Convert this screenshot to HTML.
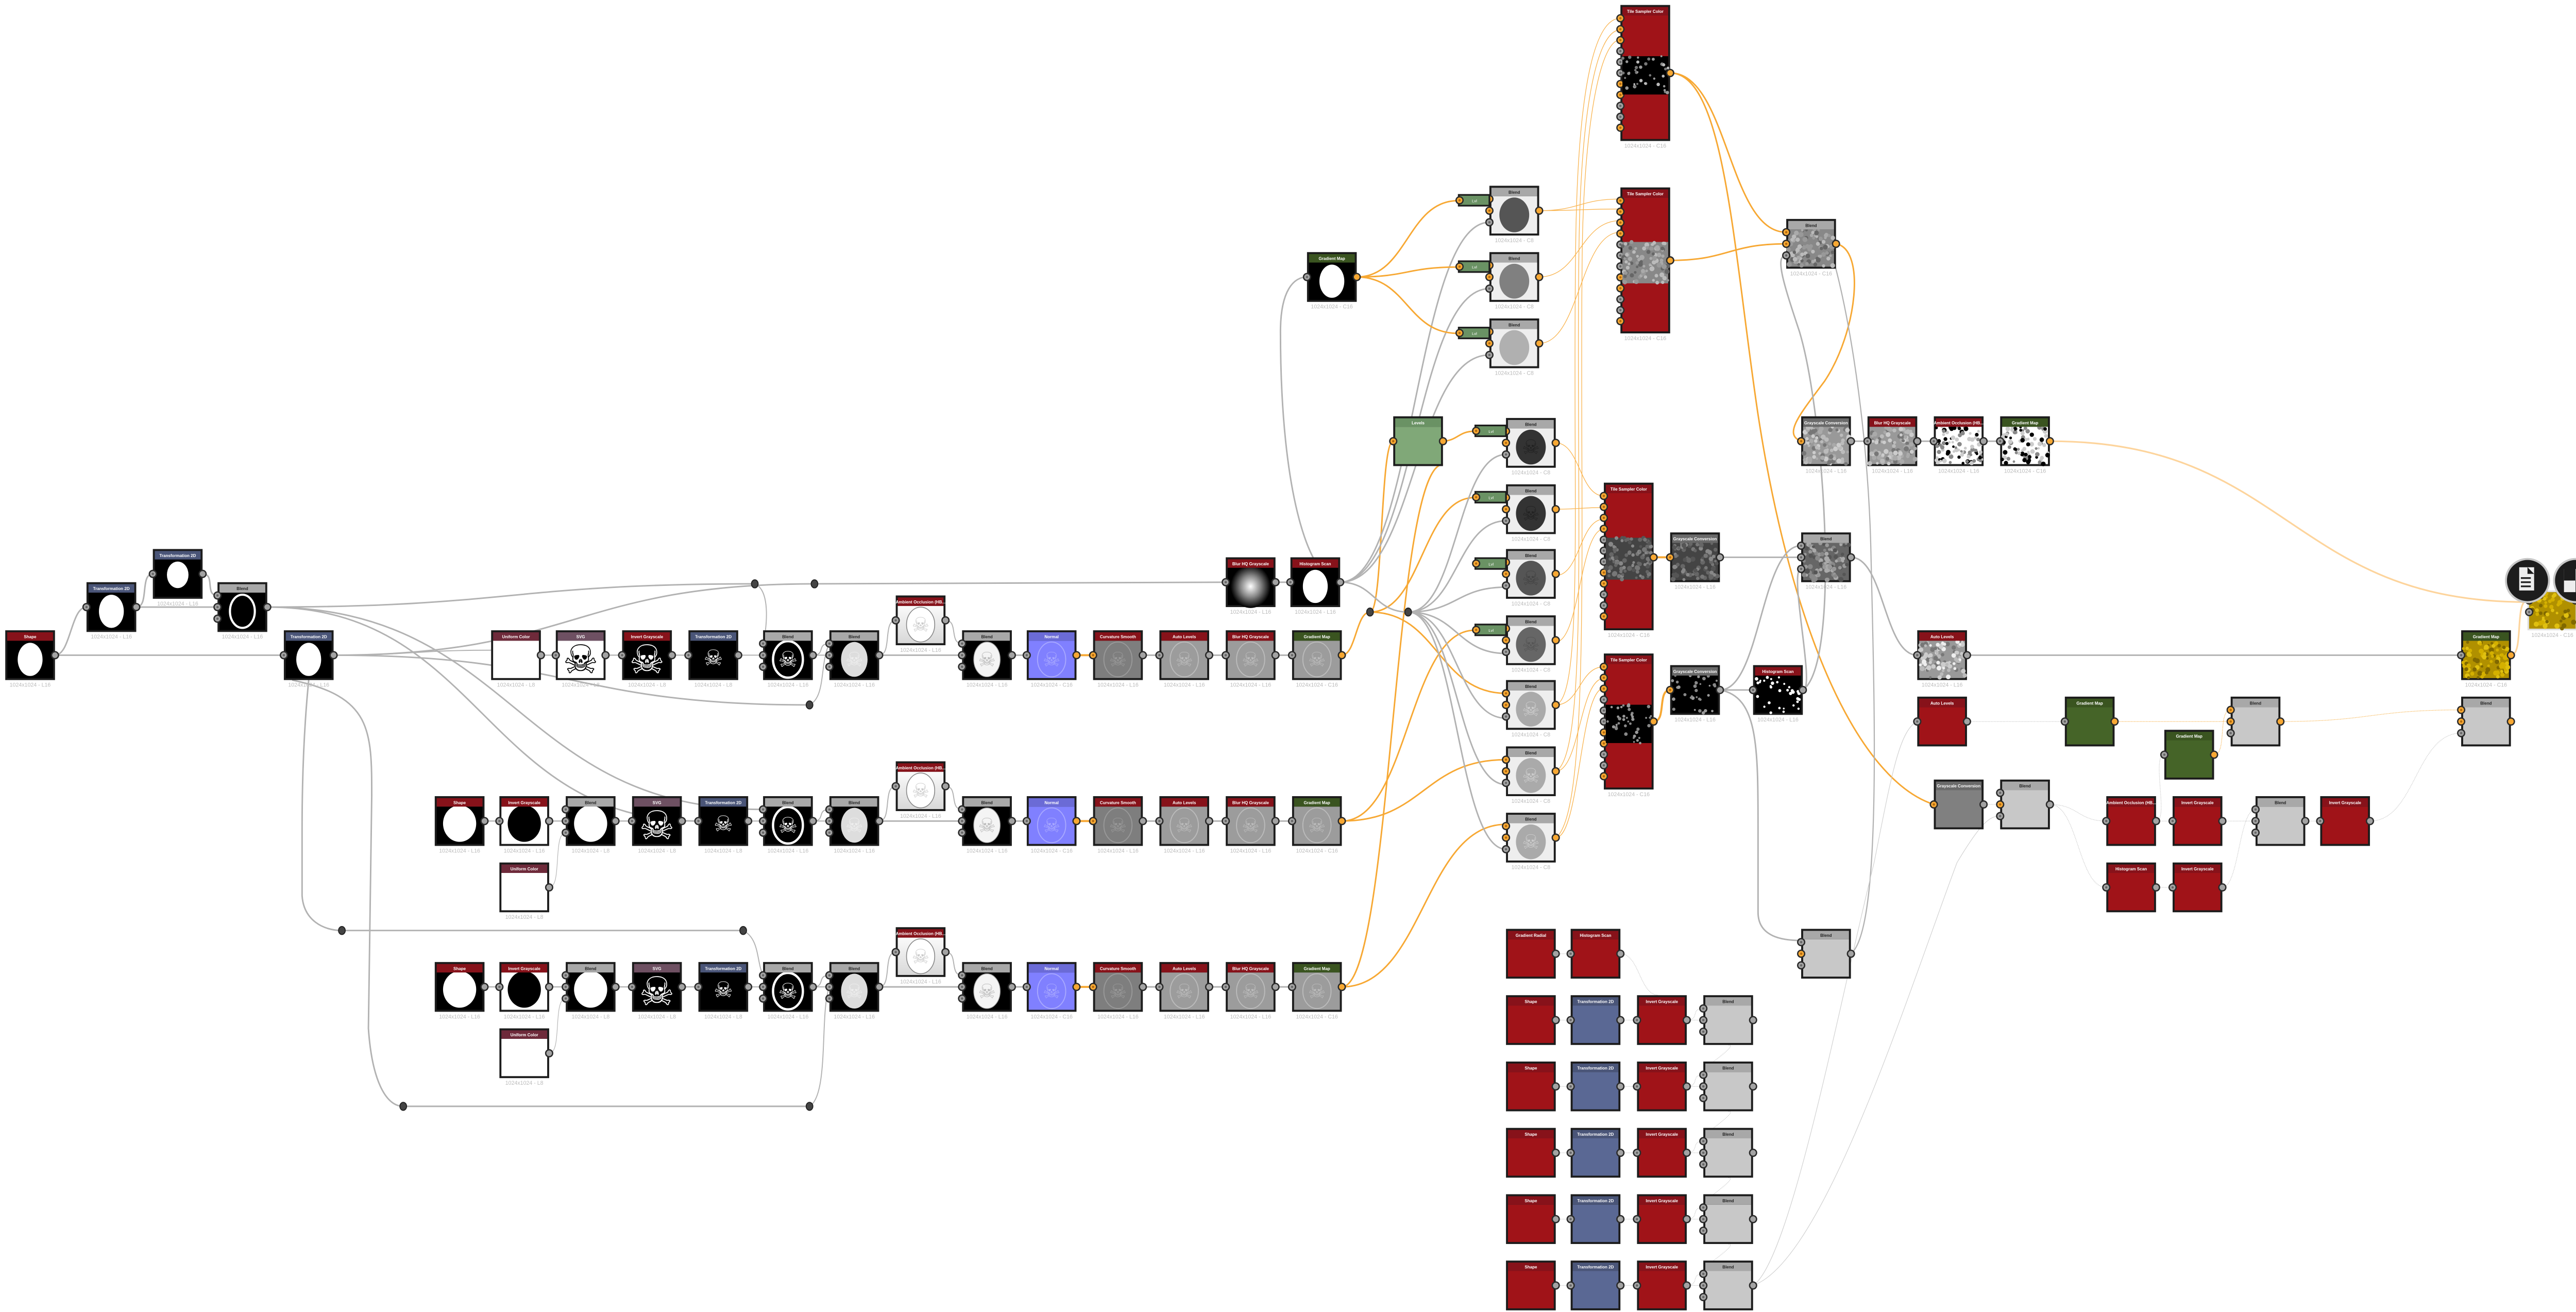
<!DOCTYPE html>
<html><head><meta charset="utf-8">
<style>
html,body{margin:0;padding:0;background:#fff;width:5048px;height:2546px;overflow:hidden}
svg{display:block}
text{font-family:"Liberation Sans",sans-serif}
</style></head>
<body>
<svg id="s" width="5048" height="2546" viewBox="0 0 1568 791" xmlns="http://www.w3.org/2000/svg">
<defs>
<radialGradient id="glow" cx="50%" cy="50%" r="50%"><stop offset="0" stop-color="#fff"/><stop offset="0.5" stop-color="#888"/><stop offset="1" stop-color="#000"/></radialGradient>
<linearGradient id="aog" x1="0" y1="0" x2="0" y2="1"><stop offset="0" stop-color="#fafafa"/><stop offset="1" stop-color="#d8d8d8"/></linearGradient>
</defs>
<g id="edges"></g>
<g id="nodes"></g>
</svg>
<script>
(function(){
var E='',N='';
var seed=12345;function rnd(){seed=(seed*16807)%2147483647;return seed/2147483647;}
var TC={red:'#87121a',blue:'#4a5578',gray:'#a8a8a8',green:'#3a5420',uc:'#6e2a3a',svg:'#6e5062',nrm:'#6b6bd6',gc:'#6a6a6a',lev:'#6a9264'};
var G='#a3a3a3',O='#f7a833';
function edge(x1,y1,x2,y2,c,w,dash,op){
 var d=Math.max(Math.abs(x2-x1)/2,8);
 E+='<path d="M'+x1+' '+y1+' C'+(x1+d)+' '+y1+' '+(x2-d)+' '+y2+' '+x2+' '+y2+'" fill="none" stroke="'+c+'" stroke-width="'+w+'"'+(dash?' stroke-dasharray="0.5 0.4"':'')+(op?' opacity="'+op+'"':'')+'/>';
}
function gE(a,b,c,d,w){edge(a,b,c,d,'#b2b2b2',w||0.9);}
function oE(a,b,c,d,w){edge(a,b,c,d,O,w||0.9);}
function tO(a,b,c,d){edge(a,b,c,d,'#f9b34d',0.4);}
function fD(a,b,c,d,col){edge(a,b,c,d,col||'#c8c8c8',0.35,true);}
function raw(p,c,w){E+='<path d="'+p+'" fill="none" stroke="'+c+'" stroke-width="'+w+'"/>';}
function noise(x,y,w,h,bg,cols,n,r){
 var s='<rect x="'+x+'" y="'+y+'" width="'+w+'" height="'+h+'" fill="'+bg+'"/>';
 for(var i=0;i<n;i++){var cx=x+rnd()*w,cy=y+rnd()*h;s+='<circle cx="'+cx.toFixed(1)+'" cy="'+cy.toFixed(1)+'" r="'+(r*(0.6+rnd()*0.6)).toFixed(2)+'" fill="'+cols[Math.floor(rnd()*cols.length)]+'"/>';}
 return s;
}
function skull(cx,cy,sz,col){return '<text x="'+cx+'" y="'+(cy+sz*0.35)+'" font-size="'+sz+'" text-anchor="middle" fill="'+col+'" font-family="DejaVu Sans,sans-serif">☠</text>';}
function body(t,x,y,w,h){
 var cx=x+w/2,cy=y+h/2,s='';
 var p=t.split(':');
 switch(p[0]){
 case 'solid':return '<rect x="'+x+'" y="'+y+'" width="'+w+'" height="'+h+'" fill="'+p[1]+'"/>';
 case 'circ':return '<rect x="'+x+'" y="'+y+'" width="'+w+'" height="'+h+'" fill="#000"/><ellipse cx="'+cx+'" cy="'+cy+'" rx="7.5" ry="10" fill="#fff"/>';
 case 'circS':return '<rect x="'+x+'" y="'+y+'" width="'+w+'" height="'+h+'" fill="#000"/><ellipse cx="'+cx+'" cy="'+(cy-2)+'" rx="6.5" ry="8" fill="#fff"/>';
 case 'circB':return '<rect x="'+x+'" y="'+y+'" width="'+w+'" height="'+h+'" fill="#000"/><ellipse cx="'+cx+'" cy="'+(cy-1)+'" rx="10" ry="11" fill="#fff"/>';
 case 'invc':return '<rect x="'+x+'" y="'+y+'" width="'+w+'" height="'+h+'" fill="#fff"/><ellipse cx="'+cx+'" cy="'+(cy-1)+'" rx="10" ry="11" fill="#000"/>';
 case 'ring':return '<rect x="'+x+'" y="'+y+'" width="'+w+'" height="'+h+'" fill="#000"/><ellipse cx="'+cx+'" cy="'+cy+'" rx="7.5" ry="10" fill="none" stroke="#fff" stroke-width="1.3"/>';
 case 'white':return '<rect x="'+x+'" y="'+y+'" width="'+w+'" height="'+h+'" fill="#fff"/>';
 case 'skullW':return '<rect x="'+x+'" y="'+y+'" width="'+w+'" height="'+h+'" fill="#fff"/>'+skull(cx,cy,24,'#000');
 case 'skullB':return '<rect x="'+x+'" y="'+y+'" width="'+w+'" height="'+h+'" fill="#000"/>'+skull(cx,cy,24,'#fff');
 case 'skullS':return '<rect x="'+x+'" y="'+y+'" width="'+w+'" height="'+h+'" fill="#000"/>'+skull(cx,cy-1,13,'#fff');
 case 'ringSk':return '<rect x="'+x+'" y="'+y+'" width="'+w+'" height="'+h+'" fill="#000"/><ellipse cx="'+cx+'" cy="'+cy+'" rx="9" ry="11" fill="none" stroke="#fff" stroke-width="1.4"/>'+skull(cx,cy,13,'#fff');
 case 'pale':return '<rect x="'+x+'" y="'+y+'" width="'+w+'" height="'+h+'" fill="#000"/><ellipse cx="'+cx+'" cy="'+cy+'" rx="8" ry="10.5" fill="#ddd"/>'+skull(cx,cy,12,'#eee');
 case 'bw':return '<rect x="'+x+'" y="'+y+'" width="'+w+'" height="'+h+'" fill="#000"/><ellipse cx="'+cx+'" cy="'+cy+'" rx="8" ry="10.5" fill="#f4f4f4" stroke="#999" stroke-width="0.4"/>'+skull(cx,cy,12,'#bbb');
 case 'ao':return '<rect x="'+x+'" y="'+y+'" width="'+w+'" height="'+h+'" fill="url(#aog)"/><ellipse cx="'+cx+'" cy="'+cy+'" rx="8.5" ry="10.5" fill="#fff" stroke="#888" stroke-width="0.5"/>'+skull(cx,cy,12,'#ccc');
 case 'emb':return '<rect x="'+x+'" y="'+y+'" width="'+w+'" height="'+h+'" fill="'+p[1]+'"/><ellipse cx="'+cx+'" cy="'+cy+'" rx="8.5" ry="10.5" fill="none" stroke="'+p[2]+'" stroke-width="0.6"/>'+skull(cx,cy,12,p[2]);
 case 'glow':return '<rect x="'+x+'" y="'+y+'" width="'+w+'" height="'+h+'" fill="#000"/><ellipse cx="'+cx+'" cy="'+cy+'" rx="12" ry="13" fill="url(#glow)"/>';
 case 'disk':return '<rect x="'+x+'" y="'+y+'" width="'+w+'" height="'+h+'" fill="#eee"/><ellipse cx="'+cx+'" cy="'+cy+'" rx="9" ry="10.5" fill="'+p[1]+'"/>'+(p[2]?skull(cx,cy,12,p[2]):'');
 case 'nz':return noise(x,y,w,h,p[1],p[2].split(','),+p[3],+p[4]);
 }
 return '';
}
function port(x,y,c,inp){
 var s='<circle cx="'+x+'" cy="'+y+'" r="2.1" fill="'+c+'" stroke="#2a2a2a" stroke-width="0.8"/>';
 if(inp) s+='<circle cx="'+x+'" cy="'+y+'" r="0.7" fill="'+(c==O?'#b06a10':'#666')+'"/>';
 return s;
}
function node(x,y,t,tc,b,lab,ins,outs,o){
 o=o||{};var w=o.w||30,h=o.h||30;
 var s='<rect x="'+x+'" y="'+y+'" width="'+w+'" height="'+h+'" fill="#1c1c1c"/>';
 s+=body(b,x+1.2,y+6.3,w-2.4,h-7.5);
 s+='<rect x="'+(x+1.2)+'" y="'+(y+1.2)+'" width="'+(w-2.4)+'" height="5.1" fill="'+(TC[tc]||tc)+'"/>';
 s+='<text x="'+(x+w/2)+'" y="'+(y+4.8)+'" font-size="2.5" font-weight="bold" text-anchor="middle" fill="'+(tc=='gray'?'#222':'#fff')+'">'+t+'</text>';
 if(lab) s+='<text x="'+(x+w/2)+'" y="'+(y+h+4)+'" font-size="3.3" text-anchor="middle" fill="#bcbcbc">1024x1024 - '+lab+'</text>';
 for(var i=0;i<ins.length;i++){var pi=ins[i];s+=port(x,y+pi[0],pi[1],true);}
 for(var i=0;i<outs.length;i++){var pi=outs[i];s+=port(x+w,y+pi[0],pi[1],false);}
 N+=s;
}
var I1=[[15,G]],O1=[[15,G]],OO=[[15,O]],I3=[[8,G],[15,G],[22,G]],IO=[[15,O]];
var BI=[[8,O],[15,O],[22,G]];
function dot(x,y){N+='<ellipse cx="'+x+'" cy="'+y+'" rx="2" ry="2.4" fill="#444" stroke="#222" stroke-width="0.6"/>';}
function lvl(x,y){N+='<rect x="'+x+'" y="'+y+'" width="19.5" height="7.5" fill="#1c1c1c"/><rect x="'+(x+1)+'" y="'+(y+1)+'" width="17.5" height="5.5" fill="#6a9264"/><text x="'+(x+10)+'" y="'+(y+4.9)+'" font-size="2.4" fill="#fff" text-anchor="middle">Lvl</text>'+port(x+1,y+3.75,O,true);}

/* ================= EDGES ================= */
// left cluster
gE(33,395,52,366);gE(82,366,92,346);gE(122,346,131,359);gE(82,366,131,366);gE(33,395,171,395);
gE(161,366,455,352);gE(161,366,421,495);gE(161,366,460,488);
gE(201,395,491,352);gE(201,395,488,425);gE(201,395,296,392,0.6);
raw('M186 410 C184 430 182 460 182 500 L182 540 C183 555 195 561 206 561','#b2b2b2',0.9);
raw('M176 410 C224 420 224 440 224 480 L222 620 C224 650 232 667 243 667','#b2b2b2',0.9);
gE(206,561,448,561);gE(243,667,488,667);
raw('M455 352 C465 356 462 380 460 388','#b2b2b2',0.6);
raw('M448 561 C458 566 456 580 460 588','#b2b2b2',0.6);
raw('M488 425 C498 420 494 400 500 388','#b2b2b2',0.6);
raw('M488 667 C500 660 494 610 500 595','#b2b2b2',0.6);
gE(491,352,739,351);
// rows
[380,480,580].forEach(function(y,ri){
 var xs=ri==0?[296,335,375,415]:[262,301,341,381,421];
 for(var i=0;i<xs.length-1;i++)gE(xs[i]+30,y+15,xs[i+1],y+15,0.7);
 gE(xs[xs.length-1]+30,y+15,460,y+15,0.6);
 gE(490,y+15,500,y+8,0.6);gE(490,y+15,500,y+15,0.6);
 gE(530,y+15,540,y-6,0.6);gE(530,y+15,580,y+15,0.9);gE(570,y-6,580,y+8,0.6);
 gE(610,y+15,619,y+15,0.9);oE(649,y+15,659,y+15,1.2);
 gE(689,y+15,699,y+15,0.9);gE(729,y+15,739,y+15,0.9);gE(769,y+15,779,y+15,0.9);
 if(ri>0){gE(331,y+55,341,y+22,0.35);}
});
// middle
gE(769,351,778,351);
oE(809,395,826,369);
oE(826,369,840,266);oE(826,369,889,300);oE(826,369,908,418);
oE(809,495,889,380);oE(809,495,908,458);
oE(809,595,908,497);oE(809,595,870,280);
raw('M808 351 C790 351 772 300 772 200 C772 175 780 167 788 167','#b2b2b2',0.9);
gE(808,351,898,134);gE(808,351,898,174);gE(808,351,898,214);
gE(808,351,849,369);
[274,314,354,394,433,473,512].forEach(function(yy){gE(849,369,908,yy,0.9);});
oE(869,266,889,260);
oE(818,167,879,121);oE(818,167,879,161);oE(818,167,879,201);
// blends -> tile samplers
tO(928,127,977,120);tO(928,127,977,126);tO(928,167,977,133);tO(928,207,977,140);
tO(938,267,967,299);tO(938,307,967,306);tO(938,347,967,313);tO(938,387,967,319);
tO(938,425,967,402);tO(938,465,967,409);tO(938,505,967,415);
raw('M938 425 C955 420 948 300 950 150 C951 60 960 11 977 11','#f9b34d',0.4);
raw('M938 465 C958 455 950 300 952 150 C953 70 962 18 977 18','#f9b34d',0.4);
raw('M938 505 C960 490 952 300 954 150 C955 80 964 24 977 24','#f9b34d',0.4);
// tile outputs
oE(1007,44,1077,140);
raw('M1007 44 C1040 44 1045 150 1060 250 C1080 380 1120 470 1166 485','#f7a833',0.9);
oE(1007,157,1077,147);
raw('M1107 147 C1125 150 1120 200 1100 230 C1085 250 1075 262 1086 266','#f7a833',0.9);
oE(997,336,1007,336,1.2);oE(997,435,1007,416,1.2);
gE(1037,336,1086,336);gE(1037,416,1057,416);
gE(1037,416,1086,329);gE(1087,416,1086,343);
raw('M1087 416 C1110 400 1100 250 1085 200 C1075 170 1070 154 1077 154','#b2b2b2',0.9);
raw('M1037 416 C1060 420 1060 450 1060 500 L1060 550 C1060 565 1075 567 1086 567','#b2b2b2',0.9);
raw('M1116 575 C1135 560 1130 420 1128 330 C1126 250 1112 170 1100 140','#b2b2b2',0.7);
gE(1116,266,1126,266);gE(1156,266,1166,266);gE(1196,266,1206,266);
edge(1236,266,1524,363,'#fdd49c',1);
gE(1116,336,1156,395);gE(1186,395,1484,395);
edge(1514,395,1524,362,'#fdd49c',1);
// bottom right faint
fD(1186,435,1245,435);fD(1275,435,1345,435,'#f7b24a');fD(1335,455,1345,428,'#f7b24a');fD(1375,435,1484,428,'#f7b24a');
fD(1196,485,1206,485);fD(1236,485,1270,495);fD(1300,495,1310,495);fD(1340,495,1360,495);fD(1390,495,1399,495);fD(1429,495,1484,442);
fD(1236,485,1270,535);fD(1300,535,1310,535);fD(1340,535,1360,488);fD(1300,495,1305,455);
raw('M1057 775 C1080 760 1110 600 1130 520 C1140 470 1145 440 1156 435','#cfcfcf',0.35);
raw('M1057 775 C1100 760 1150 600 1180 520 C1195 495 1200 492 1206 492','#cfcfcf',0.35);
// bottom grid
fD(938,575,947,575);fD(977,575,1000,600);
[600,640,680,720,760].forEach(function(y,i){fD(938,y+15,947,y+15);fD(977,y+15,987,y+15);fD(1017,y+15,1027,y+8);fD(1017,y+15,1027,y+15);
 if(i<4)fD(1042,y+30,1027,y+48);});

/* ================= NODES ================= */
node(3,380,'Shape','red','circ','L16',[],O1);
node(52,351,'Transformation 2D','blue','circ','L16',I1,O1);
node(92,331,'Transformation 2D','blue','circS','L16',I1,O1);
node(131,351,'Blend','gray','ring','L16',I3,O1);
node(171,380,'Transformation 2D','blue','circ','L16',I1,O1);
function tail(y,k){
 node(460,y,'Blend','gray','ringSk','L16',I3,O1);
 node(500,y,'Blend','gray','pale','L16',I3,O1);
 node(540,y-21,'Ambient Occlusion (HB...','red','ao','L16',I1,O1);
 node(580,y,'Blend','gray','bw','L16',I3,O1);
 node(619,y,'Normal','nrm','emb:#8080ff:#a8a8ff','C16',I1,OO);
 node(659,y,'Curvature Smooth','red','emb:#7e7e7e:#999','L16',IO,O1);
 node(699,y,'Auto Levels','red','emb:#9c9c9c:#bbb','L16',I1,O1);
 node(739,y,'Blur HQ Grayscale','red','emb:#9c9c9c:#bbb','L16',I1,O1);
 node(779,y,'Gradient Map','green','emb:#9c9c9c:#bbb','C16',I1,OO);
}
node(296,380,'Uniform Color','uc','white','L8',[],O1);
node(335,380,'SVG','svg','skullW','L8',I1,O1);
node(375,380,'Invert Grayscale','red','skullB','L8',I1,O1);
node(415,380,'Transformation 2D','blue','skullS','L8',I1,O1);
tail(380);
[480,580].forEach(function(y){
 node(262,y,'Shape','red','circB','L16',[],O1);
 node(301,y,'Invert Grayscale','red','invc','L16',I1,O1);
 node(341,y,'Blend','gray','circB','L8',I3,O1);
 node(381,y,'SVG','svg','skullB','L8',I1,O1);
 node(421,y,'Transformation 2D','blue','skullS','L8',I1,O1);
 node(301,y+40,'Uniform Color','uc','white','L8',[],O1);
 tail(y);
});
[[455,352],[491,352],[488,425],[206,561],[448,561],[243,667],[488,667],[826,369],[849,369]].forEach(function(d){dot(d[0],d[1]);});
// middle
node(739,336,'Blur HQ Grayscale','red','glow','L16',I1,O1);
node(778,336,'Histogram Scan','red','circ','L16',I1,O1);
node(788,152,'Gradient Map','green','circ','C16',I1,OO);
node(840,251,'Levels','lev','solid:#80a878','',IO,OO);
var tb=[['#555',''],['#808080',''],['#b0b0b0','']];
[112,152,192].forEach(function(y,i){node(898,y,'Blend','gray','disk:'+tb[i][0],'C8',BI,OO);});
[117,157,197].forEach(function(y){lvl(879,y);});
var mb=['#333:#222','#333:#222','#555:#444','#666:#555','#aaa:#ccc','#aaa:#ccc','#aaa:#ccc'];
[252,292,331,371,410,450,490].forEach(function(y,i){node(908,y,'Blend','gray','disk:'+mb[i],'C8',BI,OO);});
[256,296,336,376].forEach(function(y){lvl(889,y);});
// tile samplers
function tile(x,y,h,n,band,outy){
 var pc=n==11?[O,O,O,G,G,G,O,O,G,G,O]:[O,O,O,O,G,G,G,O,O,G,G,O];
 var ins=[];for(var i=0;i<n;i++)ins.push([8+i*6.6,pc[i]]);
 node(x,y,'Tile Sampler Color','red','solid:#a01318','C16',ins,[[outy,O]],{h:h});
 var by=y+6.3+(h-7.5)*0.33,bh=(h-7.5)*0.31;
 N+=band(x+1.2,by,27.6,bh);
 N+=port(x+30,y+outy,O,false);
}
tile(977,3,82,11,function(x,y,w,h){return noise(x,y,w,h,'#000',['#999','#777','#bbb'],40,0.9);},41);
tile(977,113,88,12,function(x,y,w,h){return noise(x,y,w,h,'#888',['#aaa','#bbb','#666','#999'],90,1.3);},44);
tile(967,291,89,12,function(x,y,w,h){return noise(x,y,w,h,'#444',['#777','#888','#555','#666'],90,1.3);},45);
tile(967,394,82,11,function(x,y,w,h){return noise(x,y,w,h,'#000',['#999','#888'],40,0.9);},41);
node(1007,321,'Grayscale Conversion','gc','nz:#444:#777,#888,#555,#666:90:1.3','L16',IO,O1);
node(1007,401,'Grayscale Conversion','gc','nz:#000:#999,#888:35:0.9','L16',IO,O1);
node(1057,401,'Histogram Scan','red','nz:#000:#fff:35:0.9','L16',I1,O1);
node(1077,132,'Blend','gray','nz:#888:#aaa,#bbb,#666,#999:90:1.3','C16',BI,OO);
node(1086,251,'Grayscale Conversion','gc','nz:#999:#aaa,#bbb,#777,#ccc:90:1.3','L16',IO,O1);
node(1126,251,'Blur HQ Grayscale','red','nz:#999:#aaa,#bbb,#777,#ccc:90:1.3','L16',I1,O1);
node(1166,251,'Ambient Occlusion (HB...','red','nz:#fff:#000,#888,#ccc:90:1.2','L16',I1,O1);
node(1206,251,'Gradient Map','green','nz:#fff:#000,#888,#ccc:90:1.2','C16',I1,OO);
node(1086,321,'Blend','gray','nz:#666:#888,#999,#555,#aaa:90:1.3','L16',I3,O1);
node(1156,380,'Auto Levels','red','nz:#999:#ccc,#777,#bbb,#eee:90:1.3','L16',I1,O1);
node(1484,380,'Gradient Map','green','nz:#b09000:#d4b000,#806800,#e0c010:90:1.3','C16',I1,OO);
// output
N+='<rect x="1524" y="356" width="30" height="24" fill="#ddd"/>'+noise(1525,357,28,22,'#b09000',['#d4b000','#806800','#e0c010'],60,1.3);
N+='<text x="1539" y="384" font-size="3.3" text-anchor="middle" fill="#bcbcbc">1024x1024 - C16</text>';
N+=port(1525,362,O,true)+port(1525,369,G,true)+port(1553,362,O,false);
N+='<circle cx="1524" cy="350" r="13" fill="#1d1d1d" stroke="#c8c8c8" stroke-width="1.2"/><rect x="1519" y="342" width="9" height="14" fill="#eee"/><path d="M1524 342 L1528 346 L1524 346 Z" fill="#1d1d1d"/><rect x="1520" y="348" width="6" height="1" fill="#1d1d1d"/><rect x="1520" y="350.5" width="6" height="1" fill="#1d1d1d"/><rect x="1520" y="353" width="6" height="1" fill="#1d1d1d"/>';
N+='<circle cx="1553" cy="350" r="13" fill="#1d1d1d" stroke="#c8c8c8" stroke-width="1.2"/><rect x="1546" y="343" width="14" height="14" fill="#eee"/><rect x="1546" y="343" width="7" height="7" fill="#1d1d1d"/><rect x="1553" y="350" width="7" height="7" fill="#1d1d1d"/>';
// right bottom solid nodes
node(1156,420,'Auto Levels','red','solid:#a01318','',I1,O1);
node(1245,420,'Gradient Map','green','solid:#456428','',I1,OO);
node(1345,420,'Blend','gray','solid:#c8c8c8','',BI,OO);
node(1305,440,'Gradient Map','green','solid:#456428','',I1,OO);
node(1484,420,'Blend','gray','solid:#c8c8c8','',BI,OO);
node(1166,470,'Grayscale Conversion','gc','solid:#808080','',IO,O1);
node(1206,470,'Blend','gray','solid:#c8c8c8','',[[8,G],[15,O],[22,G]],O1);
node(1270,480,'Ambient Occlusion (HB...','red','solid:#a01318','',I1,O1);
node(1310,480,'Invert Grayscale','red','solid:#a01318','',I1,O1);
node(1360,480,'Blend','gray','solid:#c8c8c8','',I3,O1);
node(1399,480,'Invert Grayscale','red','solid:#a01318','',I1,O1);
node(1270,520,'Histogram Scan','red','solid:#a01318','',I1,O1);
node(1310,520,'Invert Grayscale','red','solid:#a01318','',I1,O1);
node(1086,560,'Blend','gray','solid:#c8c8c8','',[[8,G],[15,O],[22,G]],O1);
// bottom grid
node(908,560,'Gradient Radial','red','solid:#a01318','',[],O1);
node(947,560,'Histogram Scan','red','solid:#a01318','',I1,O1);
[600,640,680,720,760].forEach(function(y){
 node(908,y,'Shape','red','solid:#a01318','',[],O1);
 node(947,y,'Transformation 2D','blue','solid:#5a6894','',I1,O1);
 node(987,y,'Invert Grayscale','red','solid:#a01318','',I1,O1);
 node(1027,y,'Blend','gray','solid:#c8c8c8','',I3,O1);
});
document.getElementById('edges').innerHTML=E;
document.getElementById('nodes').innerHTML=N;
})();
</script>
</body></html>
